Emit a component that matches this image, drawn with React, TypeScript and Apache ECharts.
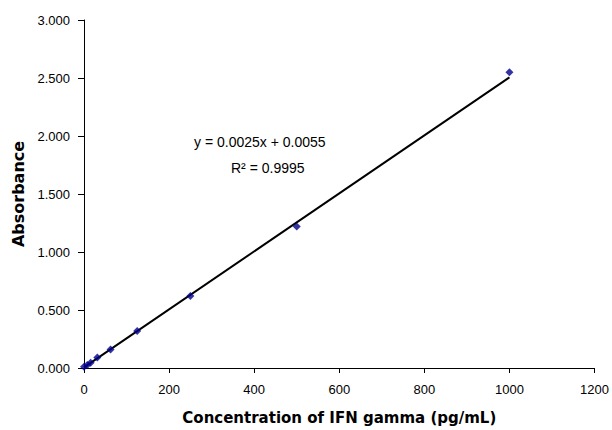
import React, { useEffect, useRef } from "react";
import * as echarts from "echarts";

const concentrations = [0, 7.8, 15.6, 31.25, 62.5, 125, 250, 500, 1000];
const absorbances = [0.01, 0.025, 0.045, 0.09, 0.16, 0.32, 0.62, 1.22, 2.55];
const slope = 0.0025;
const intercept = 0.0055;
const equationText = "y = 0.0025x + 0.0055";
const r2Text = "R² = 0.9995";

export default function App() {
  const ref = useRef<HTMLDivElement>(null);
  useEffect(() => {
    if (!ref.current) return;
    const chart = echarts.init(ref.current, null, { renderer: "svg" });
    const xMin = Math.min(...concentrations);
    const xMax = Math.max(...concentrations);
    const trend = [
      [xMin, slope * xMin + intercept],
      [xMax, slope * xMax + intercept],
    ];
    const font = "'Liberation Sans', Arial, sans-serif";
    const titleFont = "'DejaVu Sans', Verdana, sans-serif";
    chart.setOption({
      animation: false,
      backgroundColor: "#ffffff",
      grid: { left: 84, right: 17, top: 20, bottom: 60 },
      xAxis: {
        type: "value",
        min: 0,
        max: 1200,
        interval: 200,
        name: "Concentration of IFN gamma (pg/mL)",
        nameLocation: "middle",
        nameGap: 42,
        nameTextStyle: { fontFamily: titleFont, fontWeight: "bold", fontSize: 15, color: "#000" },
        axisLine: { lineStyle: { color: "#000", width: 1 } },
        axisTick: { show: true, length: 5, lineStyle: { color: "#000" } },
        axisLabel: {
          fontFamily: font,
          fontSize: 13,
          color: "#000",
          margin: 15,
          formatter: (v: number) => String(v),
        },
        splitLine: { show: false },
      },
      yAxis: {
        type: "value",
        min: 0,
        max: 3,
        interval: 0.5,
        name: "Absorbance",
        nameLocation: "middle",
        nameGap: 56,
        nameTextStyle: { fontFamily: titleFont, fontWeight: "bold", fontSize: 16, color: "#000" },
        axisLine: { show: true, lineStyle: { color: "#000", width: 1 } },
        axisTick: { show: true, length: 6, lineStyle: { color: "#000" } },
        axisLabel: {
          fontFamily: font,
          fontSize: 13,
          color: "#000",
          margin: 14,
          formatter: (v: number) => v.toFixed(3),
        },
        splitLine: { show: false },
      },
      series: [
        {
          type: "line",
          data: trend,
          symbol: "none",
          lineStyle: { color: "#000", width: 2 },
          z: 2,
        },
        {
          type: "scatter",
          data: concentrations.map((c, i) => [c, absorbances[i]]),
          symbol: "diamond",
          symbolSize: 8,
          itemStyle: { color: "#00008b" },
          z: 3,
        },
      ],
      graphic: [
        {
          type: "text",
          left: 194,
          top: 135,
          style: { text: equationText, fontFamily: font, fontSize: 14, fill: "#000" },
        },
        {
          type: "text",
          left: 231,
          top: 161,
          style: { text: r2Text, fontFamily: font, fontSize: 14, fill: "#000" },
        },
      ],
    });
    return () => chart.dispose();
  }, []);
  return (
    <div
      ref={ref}
      style={{ position: "fixed", left: 0, top: 0, width: 612, height: 430 }}
    />
  );
}
